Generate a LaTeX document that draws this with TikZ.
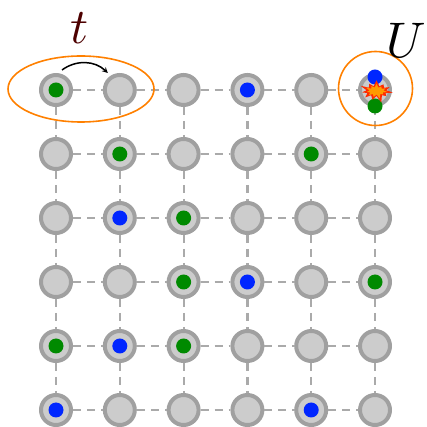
\documentclass[tikz,border=0pt]{standalone}
\usepackage{graphicx}
\usepackage{tikz}
\usetikzlibrary{shapes.geometric,shapes.symbols}
\definecolor{SiteFill}{HTML}{CCCCCC}
\definecolor{SiteRim}{HTML}{A0A0A0}
\definecolor{LinkGray}{HTML}{AAAAAA}
\definecolor{RingOrange}{HTML}{FF8000}
\definecolor{PartBlue}{HTML}{0026FF}
\definecolor{PartGreen}{HTML}{008A00}
\definecolor{HopRed}{HTML}{4D0000}
\definecolor{BurstRed}{HTML}{FF2A00}
\definecolor{BurstCore}{HTML}{FF9A00}
\begin{document}
\begin{tikzpicture}[x=1pt,y=1pt,>=stealth]
  \tikzstyle{site}=[circle,draw=SiteRim,fill=SiteFill,line width=4pt,
    minimum size=30pt,inner sep=0pt]
  \tikzstyle{link}=[draw=LinkGray,line width=2.2pt,dash pattern=on 8pt off 6pt]
  \tikzstyle{gpart}=[circle,fill=PartGreen,minimum size=15pt,inner sep=0pt]
  \tikzstyle{bpart}=[circle,fill=PartBlue,minimum size=15pt,inner sep=0pt]
  \tikzstyle{ring}=[draw=RingOrange,line width=1.6pt,inner sep=0pt]
  \tikzstyle{burst}=[starburst,starburst points=11,inner sep=0pt]
  \useasboundingbox (0,0) rectangle (427,427);
  % lattice sites
  \foreach \i in {0,...,5}
    \foreach \j in {0,...,5}
      \node[site] (n-\i-\j) at ({56+63.8*\i},{337-64*\j}) {};
  \foreach \i in {0,...,5}
    \foreach \j [count=\k] in {0,...,4} {
      \draw[link] (n-\j-\i) -- (n-\k-\i);
      \draw[link] (n-\i-\j) -- (n-\i-\k);
    }
  % particles
  \foreach \i/\j in {0/0,1/1,4/1,2/2,2/3,5/3,0/4,2/4}
    \node[gpart] (g-\i-\j) at (n-\i-\j) {};
  \foreach \i/\j in {3/0,1/2,3/3,1/4,0/5,4/5}
    \node[bpart] (b-\i-\j) at (n-\i-\j) {};
  \node[bpart] (b-up) at ([yshift=13pt]n-5-0) {};
  \node[gpart] (g-dn) at ([yshift=-16pt]n-5-0) {};
  \node[burst,starburst point height=8pt,minimum width=36pt,minimum height=26pt,
    fill=BurstRed] (boom) at ([shift={(1.5,-1)}]n-5-0) {};
  \node[burst,starburst point height=5pt,minimum width=24pt,minimum height=17pt,
    fill=BurstCore] (core) at (boom) {};
  % hopping and interaction
  \node[ring,ellipse,minimum width=146pt,minimum height=66pt] (pair) at (81,338) {};
  \node[ring,circle,minimum size=74pt] (hot) at (375.5,338.5) {};
  \draw[->,line width=1.5pt] ([shift={(6,3)}]n-0-0.north) to[bend left=40]
    ([shift={(-12,0)}]n-1-0.north);
  \node[text=HopRed] (hop) at (80,399) {\scalebox{5}{$t$}};
  \node (int) at (406,387) {\scalebox{5}{$U$}};
\end{tikzpicture}
\end{document}
